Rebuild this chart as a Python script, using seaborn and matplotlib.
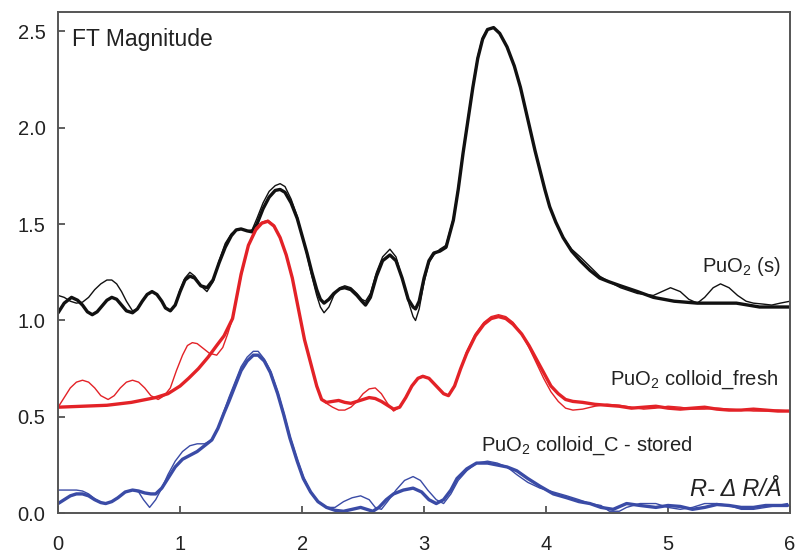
import matplotlib
matplotlib.use("Agg")
import matplotlib.pyplot as plt
import seaborn as sns

# R axis (Angstrom) and FT magnitude
# PuO2 (s)
pu_s_data_r = [0.00, 0.05, 0.10, 0.15, 0.20, 0.25, 0.30, 0.35, 0.40, 0.44,
               0.48, 0.52, 0.56, 0.61, 0.65, 0.69, 0.73, 0.77, 0.81, 0.85,
               0.88, 0.92, 0.96, 1.00, 1.04, 1.08, 1.12, 1.17, 1.22, 1.27,
               1.32, 1.37, 1.42, 1.46, 1.50, 1.55, 1.59, 1.63, 1.68, 1.73,
               1.78, 1.82, 1.86, 1.91, 1.96, 2.00, 2.04, 2.08, 2.12, 2.15,
               2.18, 2.22, 2.26, 2.31, 2.35, 2.40, 2.45, 2.49, 2.52, 2.56,
               2.61, 2.66, 2.72, 2.77, 2.82, 2.87, 2.91, 2.93, 2.96, 3.00,
               3.04, 3.08, 3.13, 3.18, 3.24, 3.28, 3.32, 3.36, 3.40, 3.44,
               3.48, 3.52, 3.57, 3.62, 3.68, 3.74, 3.79, 3.83, 3.87, 3.91,
               3.95, 3.99, 4.03, 4.08, 4.14, 4.21, 4.28, 4.36, 4.44, 4.52,
               4.61, 4.75, 4.88, 4.95, 5.02, 5.10, 5.17, 5.24, 5.30, 5.37,
               5.43, 5.50, 5.57, 5.64, 5.70, 5.78, 5.85, 5.92, 6.00]
pu_s_data = [1.13, 1.12, 1.10, 1.09, 1.095, 1.12, 1.16, 1.19, 1.21, 1.21,
             1.19, 1.15, 1.10, 1.05, 1.06, 1.10, 1.135, 1.15, 1.135, 1.10,
             1.065, 1.05, 1.08, 1.16, 1.22, 1.25, 1.23, 1.18, 1.15, 1.20,
             1.31, 1.40, 1.45, 1.47, 1.475, 1.465, 1.47, 1.53, 1.61, 1.67,
             1.70, 1.71, 1.695, 1.63, 1.54, 1.44, 1.34, 1.23, 1.13, 1.07,
             1.04, 1.07, 1.13, 1.17, 1.18, 1.17, 1.14, 1.11, 1.10, 1.14,
             1.25, 1.33, 1.37, 1.33, 1.22, 1.10, 1.02, 1.00, 1.06, 1.20,
             1.30, 1.34, 1.37, 1.39, 1.53, 1.69, 1.88, 2.05, 2.22, 2.37,
             2.47, 2.51, 2.52, 2.49, 2.42, 2.32, 2.21, 2.10, 1.99, 1.88,
             1.78, 1.68, 1.59, 1.51, 1.43, 1.37, 1.33, 1.28, 1.23, 1.20,
             1.17, 1.14, 1.13, 1.15, 1.17, 1.15, 1.11, 1.09, 1.12, 1.17,
             1.19, 1.17, 1.13, 1.10, 1.09, 1.085, 1.08, 1.09, 1.10]

pu_s_fit_r = [0.00, 0.05, 0.11, 0.16, 0.20, 0.24, 0.28, 0.32, 0.36, 0.40,
              0.44, 0.48, 0.52, 0.56, 0.61, 0.65, 0.69, 0.73, 0.77, 0.81,
              0.85, 0.88, 0.92, 0.96, 1.00, 1.04, 1.08, 1.12, 1.17, 1.22,
              1.27, 1.32, 1.37, 1.42, 1.46, 1.50, 1.55, 1.59, 1.63, 1.68,
              1.73, 1.78, 1.82, 1.86, 1.91, 1.96, 2.00, 2.04, 2.08, 2.12,
              2.15, 2.18, 2.22, 2.26, 2.31, 2.35, 2.40, 2.45, 2.49, 2.52,
              2.56, 2.61, 2.66, 2.72, 2.77, 2.82, 2.87, 2.91, 2.93, 2.96,
              3.00, 3.04, 3.08, 3.13, 3.18, 3.24, 3.28, 3.32, 3.36, 3.40,
              3.44, 3.48, 3.52, 3.57, 3.62, 3.68, 3.74, 3.79, 3.83, 3.87,
              3.91, 3.95, 3.99, 4.03, 4.08, 4.14, 4.21, 4.28, 4.36, 4.44,
              4.52, 4.61, 4.75, 4.88, 5.05, 5.24, 5.40, 5.56, 5.75, 5.90,
              6.00]
pu_s_fit = [1.04, 1.09, 1.12, 1.105, 1.08, 1.045, 1.03, 1.045, 1.075, 1.105,
            1.12, 1.11, 1.08, 1.05, 1.04, 1.06, 1.10, 1.135, 1.15, 1.135,
            1.10, 1.065, 1.05, 1.08, 1.15, 1.21, 1.23, 1.22, 1.18, 1.17,
            1.21, 1.30, 1.38, 1.44, 1.47, 1.475, 1.465, 1.46, 1.50, 1.58,
            1.64, 1.675, 1.68, 1.665, 1.61, 1.53, 1.44, 1.35, 1.25, 1.16,
            1.11, 1.09, 1.11, 1.14, 1.165, 1.17, 1.16, 1.13, 1.10, 1.08,
            1.12, 1.23, 1.31, 1.34, 1.31, 1.22, 1.11, 1.07, 1.06, 1.10,
            1.22, 1.31, 1.35, 1.36, 1.38, 1.52, 1.68, 1.87, 2.04, 2.21,
            2.36, 2.46, 2.51, 2.52, 2.49, 2.42, 2.32, 2.21, 2.10, 1.99,
            1.88, 1.78, 1.68, 1.59, 1.51, 1.43, 1.36, 1.31, 1.26, 1.22,
            1.20, 1.18, 1.15, 1.12, 1.10, 1.09, 1.09, 1.09, 1.07, 1.07,
            1.07]

# PuO2 colloid_fresh
fresh_data_r = [0.00, 0.05, 0.10, 0.15, 0.20, 0.25, 0.30, 0.35, 0.41, 0.46,
                0.51, 0.56, 0.61, 0.66, 0.71, 0.76, 0.82, 0.87, 0.92, 0.97,
                1.02, 1.06, 1.10, 1.14, 1.18, 1.24, 1.30, 1.35, 1.39, 1.43,
                1.50, 1.56, 1.62, 1.67, 1.72, 1.77, 1.82, 1.87, 1.92, 1.97,
                2.02, 2.07, 2.12, 2.16, 2.20, 2.25, 2.30, 2.35, 2.40, 2.45,
                2.50, 2.55, 2.60, 2.65, 2.70, 2.75, 2.80, 2.85, 2.90, 2.95,
                2.99, 3.04, 3.10, 3.16, 3.20, 3.25, 3.30, 3.35, 3.42, 3.49,
                3.55, 3.61, 3.67, 3.73, 3.80, 3.86, 3.92, 3.98, 4.04, 4.10,
                4.16, 4.22, 4.30, 4.40, 4.50, 4.60, 4.70, 4.80, 4.90, 5.00,
                5.10, 5.20, 5.30, 5.40, 5.50, 5.60, 5.70, 5.80, 5.90, 6.00]
fresh_data = [0.55, 0.60, 0.65, 0.68, 0.69, 0.68, 0.65, 0.61, 0.59, 0.61,
              0.65, 0.68, 0.69, 0.68, 0.65, 0.61, 0.59, 0.61, 0.65, 0.74,
              0.82, 0.87, 0.885, 0.88, 0.86, 0.83, 0.82, 0.86, 0.93, 1.01,
              1.23, 1.39, 1.48, 1.51, 1.52, 1.495, 1.43, 1.34, 1.22, 1.06,
              0.90, 0.78, 0.66, 0.59, 0.57, 0.55, 0.535, 0.535, 0.55, 0.58,
              0.62, 0.645, 0.65, 0.62, 0.57, 0.53, 0.55, 0.60, 0.66, 0.70,
              0.715, 0.70, 0.66, 0.62, 0.61, 0.66, 0.75, 0.84, 0.93, 0.99,
              1.02, 1.03, 1.02, 0.99, 0.93, 0.86, 0.78, 0.70, 0.63, 0.58,
              0.545, 0.535, 0.54, 0.555, 0.565, 0.56, 0.55, 0.54, 0.545, 0.555,
              0.55, 0.54, 0.54, 0.545, 0.54, 0.535, 0.53, 0.53, 0.535, 0.53]

fresh_fit_r = [0.00, 0.20, 0.40, 0.60, 0.80, 0.90, 1.00, 1.07, 1.15, 1.23,
               1.30, 1.36, 1.43, 1.50, 1.56, 1.62, 1.67, 1.72, 1.77, 1.82,
               1.87, 1.92, 1.97, 2.02, 2.07, 2.12, 2.16, 2.20, 2.25, 2.30,
               2.35, 2.40, 2.45, 2.50, 2.55, 2.60, 2.65, 2.70, 2.75, 2.80,
               2.85, 2.90, 2.95, 2.99, 3.04, 3.10, 3.16, 3.20, 3.25, 3.30,
               3.35, 3.42, 3.49, 3.55, 3.61, 3.67, 3.73, 3.80, 3.86, 3.92,
               3.98, 4.04, 4.10, 4.16, 4.22, 4.30, 4.40, 4.50, 4.60, 4.70,
               4.80, 4.90, 5.00, 5.10, 5.20, 5.30, 5.40, 5.50, 5.60, 5.70,
               5.80, 5.90, 6.00]
fresh_fit = [0.55, 0.555, 0.56, 0.575, 0.60, 0.62, 0.66, 0.70, 0.75, 0.81,
             0.87, 0.92, 1.01, 1.24, 1.39, 1.47, 1.505, 1.515, 1.49, 1.43,
             1.34, 1.22, 1.06, 0.90, 0.78, 0.66, 0.59, 0.575, 0.58, 0.585,
             0.575, 0.57, 0.58, 0.59, 0.60, 0.595, 0.58, 0.56, 0.54, 0.55,
             0.60, 0.66, 0.70, 0.71, 0.70, 0.66, 0.62, 0.61, 0.66, 0.75,
             0.83, 0.92, 0.98, 1.01, 1.02, 1.01, 0.98, 0.93, 0.87, 0.80,
             0.73, 0.66, 0.62, 0.59, 0.58, 0.575, 0.565, 0.56, 0.555, 0.545,
             0.55, 0.555, 0.545, 0.54, 0.545, 0.55, 0.54, 0.535, 0.535, 0.54,
             0.535, 0.53, 0.53]

# PuO2 colloid_C - stored
stored_data_r = [0.00, 0.05, 0.10, 0.15, 0.20, 0.25, 0.30, 0.35, 0.39, 0.44,
                 0.49, 0.55, 0.61, 0.66, 0.70, 0.75, 0.80, 0.85, 0.90, 0.96,
                 1.02, 1.08, 1.14, 1.20, 1.26, 1.31, 1.36, 1.40, 1.45, 1.50,
                 1.55, 1.60, 1.64, 1.69, 1.74, 1.80, 1.85, 1.90, 1.96, 2.01,
                 2.07, 2.13, 2.20, 2.27, 2.34, 2.41, 2.48, 2.55, 2.60, 2.65,
                 2.70, 2.77, 2.84, 2.91, 2.97, 3.03, 3.10, 3.16, 3.22, 3.28,
                 3.35, 3.43, 3.52, 3.60, 3.68, 3.76, 3.85, 3.95, 4.06, 4.17,
                 4.27, 4.36, 4.45, 4.52, 4.60, 4.66, 4.77, 4.90, 5.00, 5.10,
                 5.20, 5.30, 5.40, 5.50, 5.60, 5.70, 5.80, 5.90, 5.98]
stored_data = [0.12, 0.12, 0.12, 0.12, 0.115, 0.10, 0.075, 0.055, 0.05, 0.06,
               0.08, 0.11, 0.12, 0.11, 0.07, 0.03, 0.07, 0.13, 0.20, 0.27,
               0.32, 0.35, 0.36, 0.36, 0.38, 0.44, 0.53, 0.60, 0.68, 0.76,
               0.81, 0.84, 0.84, 0.80, 0.74, 0.63, 0.52, 0.40, 0.28, 0.19,
               0.11, 0.06, 0.03, 0.03, 0.06, 0.08, 0.09, 0.07, 0.03, 0.02,
               0.06, 0.12, 0.17, 0.19, 0.17, 0.12, 0.07, 0.05, 0.10, 0.17,
               0.22, 0.26, 0.27, 0.26, 0.24, 0.20, 0.16, 0.13, 0.11, 0.09,
               0.07, 0.05, 0.04, 0.01, 0.01, 0.03, 0.05, 0.05, 0.03, 0.02,
               0.03, 0.05, 0.05, 0.04, 0.02, 0.02, 0.03, 0.04, 0.05]

stored_fit_r = [0.00, 0.05, 0.10, 0.15, 0.20, 0.25, 0.30, 0.35, 0.39, 0.44,
                0.49, 0.55, 0.61, 0.66, 0.71, 0.76, 0.80, 0.85, 0.90, 0.96,
                1.02, 1.08, 1.14, 1.20, 1.26, 1.31, 1.36, 1.40, 1.45, 1.50,
                1.55, 1.60, 1.64, 1.69, 1.74, 1.80, 1.85, 1.90, 1.96, 2.01,
                2.07, 2.13, 2.20, 2.27, 2.34, 2.41, 2.48, 2.53, 2.58, 2.63,
                2.69, 2.75, 2.83, 2.91, 2.98, 3.04, 3.10, 3.16, 3.22, 3.27,
                3.35, 3.43, 3.52, 3.60, 3.68, 3.76, 3.85, 3.95, 4.06, 4.17,
                4.27, 4.36, 4.45, 4.55, 4.66, 4.77, 4.90, 5.00, 5.10, 5.20,
                5.30, 5.40, 5.50, 5.60, 5.70, 5.80, 5.90, 5.98]
stored_fit = [0.05, 0.07, 0.09, 0.10, 0.10, 0.09, 0.07, 0.055, 0.05, 0.06,
              0.08, 0.11, 0.12, 0.115, 0.105, 0.10, 0.10, 0.13, 0.18, 0.24,
              0.28, 0.30, 0.32, 0.35, 0.38, 0.44, 0.52, 0.58, 0.66, 0.74,
              0.79, 0.82, 0.82, 0.79, 0.73, 0.62, 0.51, 0.39, 0.27, 0.18,
              0.11, 0.06, 0.03, 0.015, 0.01, 0.02, 0.03, 0.02, 0.01, 0.03,
              0.07, 0.10, 0.12, 0.13, 0.11, 0.07, 0.05, 0.07, 0.12, 0.18,
              0.23, 0.26, 0.26, 0.25, 0.24, 0.22, 0.18, 0.14, 0.10, 0.08,
              0.06, 0.05, 0.03, 0.02, 0.05, 0.04, 0.03, 0.04, 0.035, 0.02,
              0.03, 0.045, 0.04, 0.03, 0.03, 0.04, 0.04, 0.04]

x_ticks = [0, 1, 2, 3, 4, 5, 6]
y_ticks = [0.0, 0.5, 1.0, 1.5, 2.0, 2.5]

sns.set_theme(style="white")
plt.rcParams["font.family"] = ["Liberation Sans", "DejaVu Sans"]
plt.rcParams["mathtext.fontset"] = "custom"
plt.rcParams["mathtext.rm"] = "Liberation Sans"
plt.rcParams["mathtext.it"] = "Liberation Sans:italic"

black = "#111111"
red = "#e32227"
blue = "#3a4ba6"
txt = "#222222"

fig, ax = plt.subplots(figsize=(7.96, 5.53), dpi=100)
fig.subplots_adjust(left=0.073, right=0.9925, bottom=0.072, top=0.978)

# thick = fit, thin = data
for r, v, c in [(pu_s_fit_r, pu_s_fit, black),
                (fresh_fit_r, fresh_fit, red),
                (stored_fit_r, stored_fit, blue)]:
    sns.lineplot(x=r, y=v, ax=ax, color=c, lw=2.4, estimator=None, sort=False)
for r, v, c in [(pu_s_data_r, pu_s_data, black),
                (fresh_data_r, fresh_data, red),
                (stored_data_r, stored_data, blue)]:
    sns.lineplot(x=r, y=v, ax=ax, color=c, lw=1.0, estimator=None, sort=False)

ax.set_xlim(0, 6)
ax.set_ylim(0, 2.6)
ax.set_xticks(x_ticks)
ax.set_xticklabels([str(t) for t in x_ticks])
ax.set_yticks(y_ticks)
ax.set_yticklabels([f"{t:.1f}" for t in y_ticks])
ax.tick_params(direction="in", length=5, width=1.2, color="#444444",
               labelsize=14.5, labelcolor=txt, left=True, bottom=True)
ax.tick_params(axis="x", pad=16)
ax.tick_params(axis="y", pad=9)
for s in ax.spines.values():
    s.set_color("#555555")
    s.set_linewidth(1.4)

ax.text(0.115, 2.46, "FT Magnitude", fontsize=16.5, color=txt,
        ha="left", va="center")
ax.text(5.92, 1.28, r"PuO$_2$ (s)", fontsize=14.5, color=txt,
        ha="right", va="center")
ax.text(5.90, 0.69, r"PuO$_2$ colloid_fresh", fontsize=14.5, color=txt,
        ha="right", va="center")
ax.text(3.47, 0.35, r"PuO$_2$ colloid_C - stored", fontsize=14.5,
        color=txt, ha="left", va="center")
ax.text(5.93, 0.125, "R- Δ R/Å", fontsize=17, fontstyle="italic",
        color=txt, ha="right", va="center")

plt.savefig("out.png", dpi=100)
